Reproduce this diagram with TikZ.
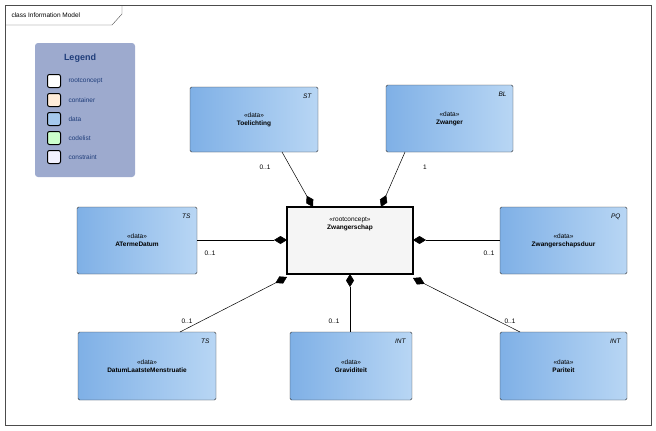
\documentclass[tikz,border=0pt]{standalone}
\usepackage{fontspec}
\setmainfont{Liberation Sans}
\usetikzlibrary{arrows.meta}
\definecolor{DataLeft}{HTML}{7FB0E6}
\definecolor{DataRight}{HTML}{B8D6F4}
\definecolor{LegendFill}{HTML}{9DAACE}
\definecolor{LegendText}{HTML}{1F3D7A}
\tikzset{
    data box/.style={draw=black!80, rounded corners=1.5pt, left color=DataLeft, right color=DataRight},
    root box/.style={draw=black, line width=2pt, fill=black!4},
    stereo/.style={font=\fontsize{6.5}{8}\selectfont, align=center},
    tag/.style={font=\fontsize{6.5}{8}\selectfont\itshape, anchor=north east},
    mult/.style={font=\fontsize{6.5}{8}\selectfont},
    comp/.style={{Diamond[length=13pt, width=8pt]}-, line width=0.5pt},
    swatch/.style={draw=black, line width=1pt, rounded corners=2pt, minimum width=13pt, minimum height=13pt}
}
\begin{document}
\begin{tikzpicture}[x=1pt, y=-1pt]
\useasboundingbox (0,0) rectangle (656,431);

% frame
\draw[black!70] (5,5) rectangle (651,425);
\draw[black!70] (5,25) -- (112,25) -- (122,14) -- (122,5);
\node[anchor=west, font=\fontsize{6.5}{8}\selectfont] (title) at (8,15) {class Information Model};

% legend
\fill[LegendFill, rounded corners=3pt] (35,43) rectangle (135,177);
\node[text=LegendText, font=\fontsize{9}{10}\selectfont\bfseries] (legend) at (80,58) {Legend};
\foreach \y/\c/\t in {81/white/rootconcept, 100/orange!15/container, 119/DataLeft!70/data, 138/green!20/codelist, 157/blue!5/constraint} {
    \node[swatch, fill=\c] (sw\t) at (54,\y) {};
    \node[anchor=west, text=LegendText, font=\fontsize{6.5}{8}\selectfont] at (65,\y) {\t};
}

% classes
\newcommand{\dataclass}[6]{%
    \draw[data box] (#1,#2) rectangle (#3,#4);
    \node[tag] at (#3-3,#2+3) {#6};
    \node[stereo] (#5) at ({(#1+#3)/2},{(#2+#4)/2}) {«data»\\\textbf{#5}};
}
\dataclass{190}{87}{318}{152}{Toelichting}{ST}
\dataclass{386}{85}{513}{152}{Zwanger}{BL}
\dataclass{77}{207}{197}{274}{ATermeDatum}{TS}
\dataclass{500}{207}{627}{274}{Zwangerschapsduur}{PQ}
\dataclass{78}{332}{216}{400}{DatumLaatsteMenstruatie}{TS}
\dataclass{290}{332}{412}{400}{Graviditeit}{INT}
\dataclass{500}{332}{627}{400}{Pariteit}{INT}

\draw[root box] (287,207) rectangle (413,274);
\node[stereo] (root) at (350,224) {«rootconcept»\\\textbf{Zwangerschap}};

% connector ends
\coordinate (rT) at (313,207);  \coordinate (cT) at (282,152);
\coordinate (rZ) at (381,207);  \coordinate (cZ) at (405,152);
\coordinate (rA) at (287,240);  \coordinate (cA) at (197,240);
\coordinate (rP) at (413,240);  \coordinate (cP) at (500,240);
\coordinate (rD) at (287,277);  \coordinate (cD) at (180,332);
\coordinate (rG) at (350,274);  \coordinate (cG) at (350,332);
\coordinate (rQ) at (413,278);  \coordinate (cQ) at (520,332);

\draw[comp] (rT) -- (cT);
\draw[comp] (rZ) -- (cZ);
\draw[comp] (rA) -- (cA);
\draw[comp] (rP) -- (cP);
\draw[comp] (rD) -- (cD);
\draw[comp] (rG) -- (cG);
\draw[comp] (rQ) -- (cQ);

\node[mult] at (265,167) {0..1};
\node[mult] at (425,167) {1};
\node[mult] at (210,253) {0..1};
\node[mult] at (489,253) {0..1};
\node[mult] at (187,321) {0..1};
\node[mult] at (334,321) {0..1};
\node[mult] at (510,321) {0..1};
\end{tikzpicture}
\end{document}
